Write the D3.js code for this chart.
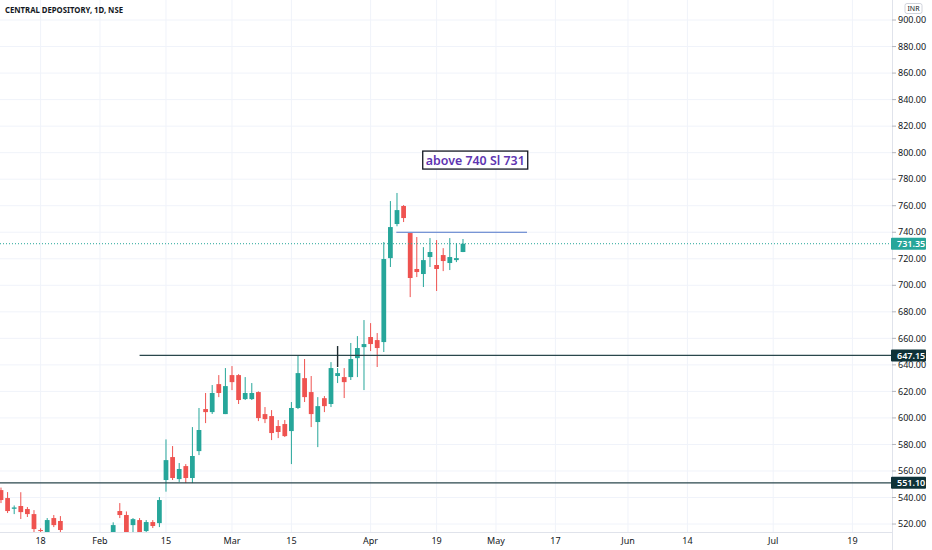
<!doctype html>
<html lang="en">
  <head>
    <meta charset="utf-8">
    <title>Central Depository</title>
    <style>
        body { margin: 0; background: #fff; }
        text { font-family: "Noto Sans", "Open Sans", sans-serif; }
        .grid { stroke: #f0f3fa; stroke-width: 1px; }
        .axis-text { fill: #131722; font-size: 9px; }
    </style>
  </head>
  <body>
    <svg width="932" height="550"></svg>
    <script src="https://cdnjs.cloudflare.com/ajax/libs/d3/7.8.5/d3.min.js"></script>
    <script>
        // daily bars, index 0 = first bar visible at the left edge (mid Jan)
        var openV  = [545.6,539.6,531.5,533.6,531.3,527.5,515.5,513.2,524.5,522.3,
                      511.0,503.5,497.0,500.0,505.5,502.0,507.5,513.2,529.8,526.8,
                      519.2,523.0,514.7,521.5,520.7,553.2,570.5,553.9,563.7,554.7,
                      575.0,606.7,604.4,625.5,602.9,632.3,632.3,614.2,614.2,619.5,
                      602.9,601.4,593.9,595.4,590.1,607.5,630.0,619.5,596.9,614.9,
                      610.5,631.6,630.8,630.8,645.1,653.4,661.0,658.7,657.2,720.5,
                      746.2,759.8,739.4,712.3,708.5,721.3,715.3,722.8,716.8,719.0,725.1];
        var highV  = [547.5,544.1,534.0,544.0,532.8,530.5,516.8,524.5,526.8,526.0,
                      513.0,507.0,502.0,508.0,510.0,509.0,513.0,521.3,535.8,529.5,
                      524.5,524.5,523.0,523.0,540.3,583.8,578.8,566.0,565.2,593.1,
                      607.5,618.8,624.8,632.3,637.6,639.1,633.0,630.8,626.3,620.0,
                      608.2,605.9,598.4,598.4,612.0,647.4,644.4,631.6,615.7,616.5,
                      642.1,637.6,637.6,656.5,661.7,673.8,671.5,664.0,732.6,763.5,
                      769.6,760.5,739.4,736.4,728.8,735.6,734.1,728.0,735.6,731.9,734.9];
        var lowV   = [535.8,528.3,527.5,523.8,525.3,513.9,513.5,511.7,517.7,511.0,
                      501.0,495.0,490.5,496.0,499.0,498.5,503.0,511.7,524.5,511.5,
                      513.2,511.7,513.2,517.0,517.7,544.4,553.2,551.7,550.9,550.9,
                      572.0,596.1,603.0,615.7,602.9,621.0,610.5,613.5,613.5,597.6,
                      596.1,583.3,584.8,585.6,565.2,606.7,612.0,593.1,578.0,604.4,
                      608.2,626.3,615.0,628.6,630.8,621.0,650.4,638.4,649.7,713.8,
                      744.5,747.7,691.1,706.2,698.7,713.8,695.7,710.7,711.5,717.5,725.0];
        var closeV = [538.1,529.8,532.5,529.0,527.5,516.2,514.7,523.0,519.2,515.5,
                      503.5,497.0,500.0,505.5,502.0,507.5,511.5,519.2,526.8,513.2,
                      523.7,513.2,521.5,518.5,538.1,568.2,554.7,561.5,554.7,571.3,
                      590.9,604.4,618.8,618.8,624.0,627.0,613.5,618.8,618.8,599.9,
                      599.1,588.6,589.4,586.3,607.5,633.8,615.7,602.9,608.9,608.9,
                      637.6,633.8,627.0,644.4,652.7,655.7,655.7,652.7,719.8,743.9,
                      756.7,750.7,705.5,710.0,719.0,725.1,712.3,718.3,721.3,720.5,731.35];

        var tickIdx    = [6, 15, 25, 35, 44, 56, 66, 75, 84, 95, 104, 117, 129];
        var tickLabels = ["18", "Feb", "15", "Mar", "15", "Apr", "19", "May", "17", "Jun", "14", "Jul", "19"];
        var priceTicks = [520, 540, 560, 580, 600, 620, 640, 660, 680, 700, 720, 740, 760, 780, 800, 820, 840, 860, 880, 900];

        var lastPrice = 731.35;
        var levels = [647.15, 551.10];
        var levelStart = [21, -1];
        var rayPrice = 740, rayFrom = 59.9, rayTo = 79.7;
        var markIdx = 51, markFrom = 638.4, markTo = 654.2;
        var noteText = "above 740 Sl 731", noteIdx = 63.9, notePrice = 801.2;

        var W = 892, H = 532;
        var up = "#26a69a", down = "#ef5350";

        var svg = d3.select("svg");
        var x = d3.scaleLinear().domain([-0.15, 135]).range([0, W]);
        var y = d3.scaleLinear().domain([514, 915.1]).range([H, 0]);

        svg.append("defs").append("clipPath").attr("id", "plot")
            .append("rect").attr("width", W).attr("height", H);

        // grid
        svg.append("g").selectAll("line.v")
            .data(tickIdx).enter().append("line")
            .attr("class", "grid")
            .attr("x1", d => x(d)).attr("x2", d => x(d))
            .attr("y1", 0).attr("y2", H);
        svg.append("g").selectAll("line.h")
            .data(priceTicks).enter().append("line")
            .attr("class", "grid")
            .attr("x1", 0).attr("x2", W)
            .attr("y1", d => y(d)).attr("y2", d => y(d));

        var plot = svg.append("g").attr("clip-path", "url(#plot)");
        var bars = d3.range(openV.length);
        var bw = (x(1) - x(0)) * 0.72;

        plot.append("g").selectAll("line")
            .data(bars).enter().append("line")
            .attr("x1", i => x(i)).attr("x2", i => x(i))
            .attr("y1", i => y(highV[i])).attr("y2", i => y(lowV[i]))
            .attr("stroke", i => closeV[i] >= openV[i] ? up : down)
            .attr("stroke-width", 1);

        plot.append("g").selectAll("rect")
            .data(bars).enter().append("rect")
            .attr("x", i => x(i) - bw / 2)
            .attr("width", bw)
            .attr("y", i => y(Math.max(openV[i], closeV[i])))
            .attr("height", i => Math.max(1, Math.abs(y(openV[i]) - y(closeV[i]))))
            .attr("fill", i => closeV[i] >= openV[i] ? up : down);

        // drawings
        plot.append("line")
            .attr("x1", 0).attr("x2", W)
            .attr("y1", y(lastPrice)).attr("y2", y(lastPrice))
            .attr("stroke", up).attr("stroke-dasharray", "1,2");

        plot.append("g").selectAll("line")
            .data(levels).enter().append("line")
            .attr("x1", (d, i) => Math.max(0, x(levelStart[i]))).attr("x2", W)
            .attr("y1", d => y(d)).attr("y2", d => y(d))
            .attr("stroke", "#2a474c").attr("stroke-width", 1.2);

        plot.append("line")
            .attr("x1", x(rayFrom)).attr("x2", x(rayTo))
            .attr("y1", y(rayPrice)).attr("y2", y(rayPrice))
            .attr("stroke", "#4f74c8").attr("stroke-width", 1.2);

        plot.append("line")
            .attr("x1", x(markIdx)).attr("x2", x(markIdx))
            .attr("y1", y(markTo)).attr("y2", y(markFrom))
            .attr("stroke", "#1c2a2e").attr("stroke-width", 1.4);

        var note = svg.append("g")
            .attr("transform", "translate(" + x(noteIdx) + "," + y(notePrice) + ")");
        note.append("rect")
            .attr("width", 105).attr("height", 18)
            .attr("fill", "#fff").attr("stroke", "#131722").attr("stroke-width", 1.3);
        note.append("text")
            .attr("x", 3).attr("y", 13.5)
            .attr("textLength", 99).attr("lengthAdjust", "spacingAndGlyphs")
            .style("font-size", "12px").style("font-weight", 600)
            .style("fill", "#5e35b1")
            .text(noteText);

        // axes
        svg.append("line")
            .attr("x1", 0).attr("x2", W).attr("y1", H + 0.5).attr("y2", H + 0.5)
            .attr("stroke", "#e0e3eb");
        svg.append("line")
            .attr("x1", W + 0.5).attr("x2", W + 0.5).attr("y1", 0).attr("y2", 550)
            .attr("stroke", "#e0e3eb");

        svg.append("g").selectAll("text")
            .data(tickIdx).enter().append("text")
            .attr("class", "axis-text")
            .attr("x", d => x(d)).attr("y", 544)
            .style("text-anchor", "middle")
            .text((d, i) => tickLabels[i]);

        var yAxis = svg.append("g");
        yAxis.selectAll("line")
            .data(priceTicks).enter().append("line")
            .attr("x1", W).attr("x2", W + 4)
            .attr("y1", d => y(d)).attr("y2", d => y(d))
            .attr("stroke", "#b2b5be");
        yAxis.selectAll("text")
            .data(priceTicks).enter().append("text")
            .attr("class", "axis-text")
            .attr("x", W + 6).attr("y", d => y(d) + 3.2)
            .text(d => d3.format(".2f")(d));

        // price tags
        var tags = [{v: lastPrice, c: up}].concat(levels.map(v => ({v: v, c: "#0f3238"})));
        var tag = svg.append("g").selectAll("g")
            .data(tags).enter().append("g")
            .attr("transform", d => "translate(" + (W - 1) + "," + y(d.v) + ")");
        tag.append("rect")
            .attr("x", 0).attr("y", -6).attr("width", 35).attr("height", 12)
            .attr("rx", 1).attr("fill", d => d.c);
        tag.append("text")
            .attr("x", 6).attr("y", 3.2)
            .style("font-size", "9px").style("font-weight", 600).style("fill", "#fff")
            .text(d => d3.format(".2f")(d.v));

        // currency + title
        svg.append("rect")
            .attr("x", 905).attr("y", 3.5).attr("width", 17).attr("height", 10)
            .attr("rx", 2).attr("fill", "#fff").attr("stroke", "#d1d4dc");
        svg.append("text")
            .attr("x", 913.5).attr("y", 11.3)
            .style("text-anchor", "middle").style("font-size", "7px").style("fill", "#131722")
            .text("INR");

        svg.append("text")
            .attr("x", 5).attr("y", 13)
            .attr("textLength", 118).attr("lengthAdjust", "spacingAndGlyphs")
            .style("font-size", "9px").style("font-weight", 700).style("fill", "#131722")
            .text("CENTRAL DEPOSITORY, 1D, NSE");
    </script>
  </body>
</html>
